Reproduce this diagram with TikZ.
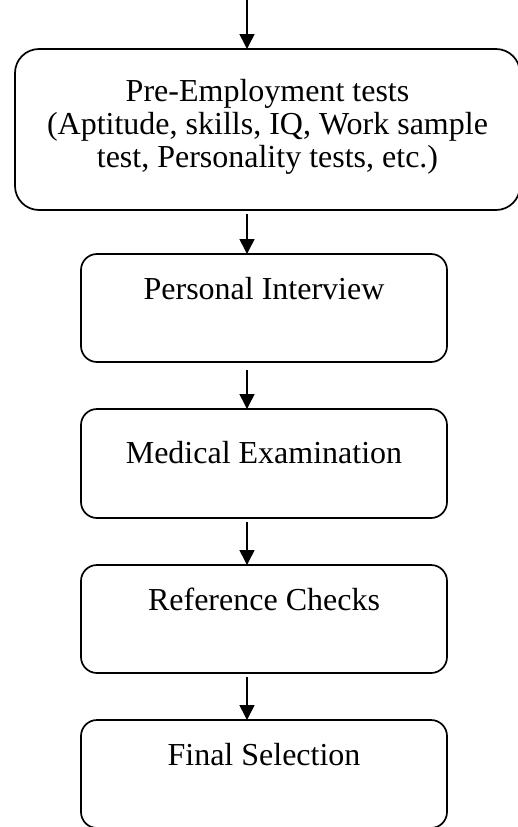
\documentclass[tikz,border=0pt]{standalone}
\usepackage{fontspec}
\setmainfont{Liberation Serif}
\usepackage{tikz}
\usetikzlibrary{arrows.meta}
\tikzset{
    stagebox/.style={draw, line width=1.7pt, rounded corners=16pt, inner sep=0pt, outer sep=0pt,
        minimum width=366pt, align=center, anchor=north, font=\fontsize{32}{33}\selectfont},
    flow/.style={line width=1.6pt, -{Triangle[length=15pt,width=15pt]}}}

\begin{document}
\begin{tikzpicture}[x=1pt,y=-1pt]
\useasboundingbox (0,0) rectangle (517,827);
\coordinate (Tin) at (247,0);
\coordinate (Ax) at (247,0);

\node[stagebox, minimum width=505pt, rounded corners=24pt, text height=118pt, text depth=43pt] (pre) at (267.5,49)
  {Pre-Employment tests\\(Aptitude, skills, IQ, Work sample\\test, Personality tests, etc.)};
\node[stagebox, text height=45pt, text depth=63pt] (int) at (264,254) {Personal Interview};
\node[stagebox, text height=54pt, text depth=55pt] (med) at (264,409) {Medical Examination};
\node[stagebox, text height=45pt, text depth=63pt] (ref) at (264,565) {Reference Checks};
\node[stagebox, text height=45pt, text depth=63pt] (fin) at (264,720) {Final Selection};

\draw[flow] (Tin) -- (pre.north -| Ax);
\draw[flow] ([yshift=-4pt]pre.south -| Ax) -- (int.north -| Ax);
\draw[flow] ([yshift=-8pt]int.south -| Ax) -- (med.north -| Ax);
\draw[flow] ([yshift=-4pt]med.south -| Ax) -- (ref.north -| Ax);
\draw[flow] ([yshift=-4pt]ref.south -| Ax) -- (fin.north -| Ax);
\end{tikzpicture}
\end{document}
